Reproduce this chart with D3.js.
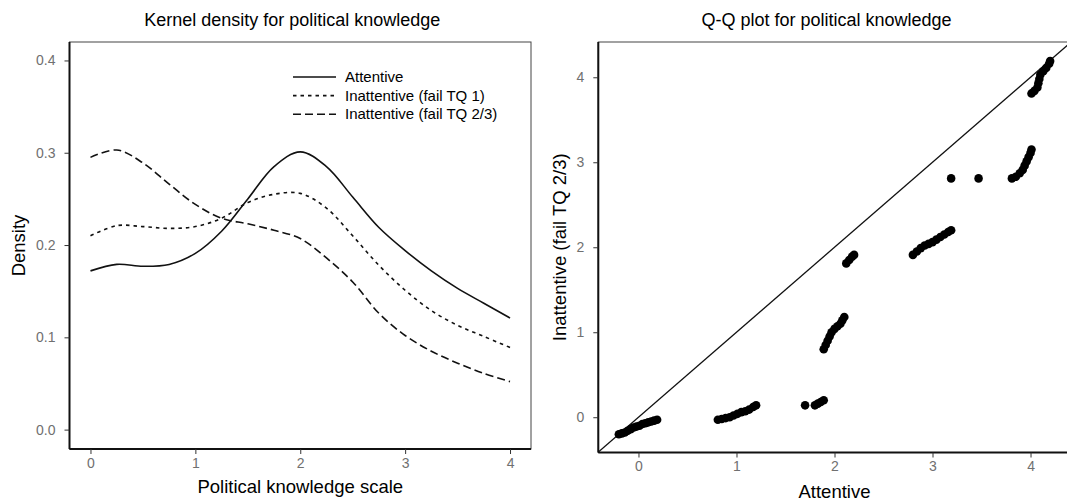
<!DOCTYPE html>
<html>
<head>
<meta charset="utf-8">
<script src="https://cdn.jsdelivr.net/npm/d3@7"></script>
<style>
  body { margin: 0; background: #fff; }
  text { font-family: "Liberation Sans", Arial, sans-serif; }
</style>
</head>
<body>
<div id="chart"></div>
<script>
// kernel density
var knowledge = [0, 0.25, 0.5, 0.75, 1, 1.25, 1.5, 1.75, 2, 2.25, 2.5, 2.75, 3, 3.25, 3.5, 3.75, 4];
var densityAttentive = [0.172, 0.179, 0.177, 0.179, 0.191, 0.215, 0.250, 0.285, 0.301, 0.285, 0.252, 0.219, 0.194, 0.172, 0.153, 0.137, 0.121];
var densityFailTQ1 = [0.210, 0.221, 0.220, 0.218, 0.220, 0.229, 0.246, 0.255, 0.256, 0.240, 0.210, 0.178, 0.151, 0.129, 0.113, 0.101, 0.089];
var densityFailTQ23 = [0.295, 0.303, 0.289, 0.266, 0.244, 0.229, 0.223, 0.216, 0.207, 0.186, 0.160, 0.126, 0.102, 0.085, 0.072, 0.061, 0.052];
var seriesNames = ["Attentive", "Inattentive (fail TQ 1)", "Inattentive (fail TQ 2/3)"];
var densityTicks = [0, 0.1, 0.2, 0.3, 0.4];
var scaleTicks = [0, 1, 2, 3, 4];

// q-q points
var qqAttentive = [
  -0.20, -0.17, -0.14, -0.11, -0.08, -0.05, -0.02, 0.01, 0.04, 0.07, 0.10, 0.13, 0.16, 0.19,
  0.81, 0.85, 0.89, 0.93, 0.97, 1.01, 1.05, 1.09, 1.13, 1.17, 1.20,
  1.70, 1.80, 1.83, 1.86, 1.89,
  1.89, 1.91, 1.93, 1.95, 1.97, 2.00, 2.03, 2.06, 2.08, 2.10,
  2.12, 2.15, 2.18, 2.20,
  2.80, 2.84, 2.88, 2.92, 2.96, 3.00, 3.04, 3.08, 3.12, 3.16, 3.19,
  3.19, 3.47,
  3.81, 3.85, 3.89, 3.92, 3.94, 3.96, 3.98, 4.00, 4.01,
  4.01, 4.04, 4.07, 4.08, 4.09, 4.10, 4.13, 4.16, 4.19, 4.20
];
var qqInattentive = [
  -0.20, -0.19, -0.18, -0.16, -0.14, -0.12, -0.11, -0.10, -0.08, -0.07, -0.06, -0.05, -0.04, -0.03,
  -0.03, -0.02, -0.01, 0.00, 0.02, 0.04, 0.06, 0.07, 0.09, 0.12, 0.14,
  0.14, 0.14, 0.16, 0.18, 0.20,
  0.80, 0.85, 0.90, 0.95, 1.00, 1.04, 1.07, 1.10, 1.14, 1.18,
  1.81, 1.85, 1.89, 1.91,
  1.91, 1.95, 1.99, 2.02, 2.04, 2.06, 2.09, 2.12, 2.15, 2.18, 2.20,
  2.81, 2.81,
  2.81, 2.83, 2.87, 2.91, 2.96, 3.01, 3.06, 3.11, 3.15,
  3.81, 3.84, 3.88, 3.93, 3.98, 4.03, 4.07, 4.11, 4.16, 4.19
];

var width = 1067, height = 502;
var tickGrey = "#707070";

var svg = d3.select("#chart")
            .append("svg")
            .attr("width", width)
            .attr("height", height);

// style the axes like ggplot's classic theme
function styleAxis(ax) {
  ax.select(".domain").attr("stroke", "#111").attr("stroke-width", 2);
  ax.selectAll(".tick line").attr("stroke", "#333");
  ax.selectAll(".tick text").attr("fill", tickGrey).style("font-size", "14px").attr("font-family", null);
}

// ---------- left panel : kernel density ----------
var x1 = d3.scaleLinear().domain([-0.2, 4.2]).range([69.5, 531]);
var y1 = d3.scaleLinear().domain([-0.021, 0.42]).range([449, 42]);

var left = svg.append("g");

left.append("text")
    .attr("x", (x1.range()[0] + x1.range()[1]) / 2 - 8)
    .attr("y", 26)
    .attr("text-anchor", "middle")
    .style("font-size", "18px")
    .text("Kernel density for political knowledge");

// border top/right
left.append("rect")
    .attr("x", x1.range()[0])
    .attr("y", y1.range()[1])
    .attr("width", x1.range()[1] - x1.range()[0])
    .attr("height", y1.range()[0] - y1.range()[1])
    .attr("fill", "none")
    .attr("stroke", "#444")
    .attr("stroke-width", 1);

var yAxis1 = left.append("g")
    .attr("transform", "translate(" + x1.range()[0] + ",0)")
    .call(d3.axisLeft(y1).tickValues(densityTicks).tickFormat(d3.format(".1f")).tickSize(5).tickPadding(9));
var xAxis1 = left.append("g")
    .attr("transform", "translate(0," + y1.range()[0] + ")")
    .call(d3.axisBottom(x1).tickValues(scaleTicks).tickFormat(d3.format("d")).tickSize(5).tickPadding(4));

styleAxis(yAxis1);
styleAxis(xAxis1);
yAxis1.select(".domain").attr("d", "M0," + y1.range()[0] + "V" + y1.range()[1]);
xAxis1.select(".domain").attr("d", "M" + x1.range()[0] + ",0H" + x1.range()[1]);

left.append("text")
    .attr("transform", "translate(19," + (y1.range()[0] + y1.range()[1]) / 2 + ") rotate(-90)")
    .attr("text-anchor", "middle")
    .attr("dy", "0.35em")
    .style("font-size", "18.5px")
    .text("Density");

left.append("text")
    .attr("x", (x1.range()[0] + x1.range()[1]) / 2)
    .attr("y", 493)
    .attr("text-anchor", "middle")
    .style("font-size", "18.5px")
    .text("Political knowledge scale");

var series = [densityAttentive, densityFailTQ1, densityFailTQ23];
var dashes = [null, "3.5,4", "8,4"];

var line = d3.line()
    .x(function(d, i) { return x1(knowledge[i]); })
    .y(function(d) { return y1(d); })
    .curve(d3.curveCatmullRom.alpha(0.5));

left.selectAll("path.curve")
    .data(series)
    .join("path")
    .attr("class", "curve")
    .attr("d", line)
    .attr("fill", "none")
    .attr("stroke", "#111")
    .attr("stroke-width", 1.6)
    .attr("stroke-dasharray", function(d, i) { return dashes[i]; });

// legend
var legend = left.append("g")
    .selectAll("g")
    .data(seriesNames)
    .join("g")
    .attr("transform", function(d, i) { return "translate(293," + (77 + i * 18.6) + ")"; });

legend.append("line")
    .attr("x1", 0).attr("x2", 43)
    .attr("stroke", "#111")
    .attr("stroke-width", 1.6)
    .attr("stroke-dasharray", function(d, i) { return dashes[i]; });

legend.append("text")
    .attr("x", 52)
    .attr("dy", "0.35em")
    .style("font-size", "15px")
    .text(function(d) { return d; });

// ---------- right panel : q-q plot ----------
var x2 = d3.scaleLinear().domain([-0.41, 4.41]).range([598.3, 1070.7]);
var y2 = d3.scaleLinear().domain([-0.415, 4.415]).range([452.5, 42]);

var right = svg.append("g");

right.append("text")
    .attr("x", (x2.range()[0] + x2.range()[1]) / 2 - 8)
    .attr("y", 26)
    .attr("text-anchor", "middle")
    .style("font-size", "18px")
    .text("Q-Q plot for political knowledge");

right.append("defs").append("clipPath")
    .attr("id", "qqclip")
    .append("rect")
    .attr("x", x2.range()[0])
    .attr("y", y2.range()[1])
    .attr("width", x2.range()[1] - x2.range()[0])
    .attr("height", y2.range()[0] - y2.range()[1]);

right.append("rect")
    .attr("x", x2.range()[0])
    .attr("y", y2.range()[1])
    .attr("width", x2.range()[1] - x2.range()[0])
    .attr("height", y2.range()[0] - y2.range()[1])
    .attr("fill", "none")
    .attr("stroke", "#444")
    .attr("stroke-width", 1);

var yAxis2 = right.append("g")
    .attr("transform", "translate(" + x2.range()[0] + ",0)")
    .call(d3.axisLeft(y2).tickValues(scaleTicks).tickFormat(d3.format("d")).tickSize(5).tickPadding(9));
var xAxis2 = right.append("g")
    .attr("transform", "translate(0," + y2.range()[0] + ")")
    .call(d3.axisBottom(x2).tickValues(scaleTicks).tickFormat(d3.format("d")).tickSize(5).tickPadding(4));

styleAxis(yAxis2);
styleAxis(xAxis2);
yAxis2.select(".domain").attr("d", "M0," + y2.range()[0] + "V" + y2.range()[1]);
xAxis2.select(".domain").attr("d", "M" + x2.range()[0] + ",0H" + x2.range()[1]);

right.append("text")
    .attr("transform", "translate(560," + (y2.range()[0] + y2.range()[1]) / 2 + ") rotate(-90)")
    .attr("text-anchor", "middle")
    .attr("dy", "0.35em")
    .style("font-size", "18.5px")
    .text("Inattentive (fail TQ 2/3)");

right.append("text")
    .attr("x", (x2.range()[0] + x2.range()[1]) / 2)
    .attr("y", 498)
    .attr("text-anchor", "middle")
    .style("font-size", "18.5px")
    .text("Attentive");

// reference line y = x
right.append("line")
    .attr("clip-path", "url(#qqclip)")
    .attr("x1", x2(-0.5)).attr("y1", y2(-0.5))
    .attr("x2", x2(4.5)).attr("y2", y2(4.5))
    .attr("stroke", "#111")
    .attr("stroke-width", 1.3);

right.append("g")
    .selectAll("circle")
    .data(qqAttentive)
    .join("circle")
    .attr("cx", function(d) { return x2(d); })
    .attr("cy", function(d, i) { return y2(qqInattentive[i]); })
    .attr("r", 4.3)
    .attr("fill", "#000");
</script>
</body>
</html>
